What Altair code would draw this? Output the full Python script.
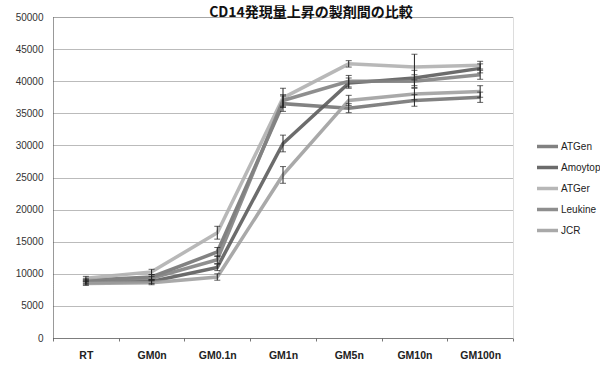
import altair as alt
import pandas as pd

# Doses on the x axis
categories = ["RT", "GM0n", "GM0.1n", "GM1n", "GM5n", "GM10n", "GM100n"]

# Products compared
series = ["ATGen", "Amoytop", "ATGer", "Leukine", "JCR"]

# Mean CD14 signal per dose, one list per product
atgen   = [9000, 9500, 13400, 36500, 35800, 37000, 37500]
amoytop = [8600, 8800, 11000, 30300, 39700, 40500, 42000]
atger   = [9300, 10300, 16400, 37400, 42700, 42200, 42500]
leukine = [8800, 9300, 12200, 37000, 40000, 40000, 41000]
jcr     = [8500, 8600, 9500, 25400, 37000, 38000, 38400]

# Standard deviations for the error bars
atgen_sd   = [300, 400, 700, 1200, 700, 900, 800]
amoytop_sd = [300, 300, 500, 1300, 800, 1200, 700]
atger_sd   = [300, 400, 1000, 1500, 500, 2000, 600]
leukine_sd = [300, 300, 600, 900, 900, 1000, 700]
jcr_sd     = [300, 300, 500, 1300, 800, 900, 900]

y_ticks = [0, 5000, 10000, 15000, 20000, 25000, 30000, 35000, 40000, 45000, 50000]

values = [atgen, amoytop, atger, leukine, jcr]
sds = [atgen_sd, amoytop_sd, atger_sd, leukine_sd, jcr_sd]

rows = []
for name, vals, err in zip(series, values, sds):
    for cat, v, e in zip(categories, vals, err):
        rows.append({"dose": cat, "product": name, "value": v,
                     "lo": v - e, "hi": v + e})
df = pd.DataFrame(rows)

grays = ["#747474", "#5c5c5c", "#b0b0b0", "#828282", "#a0a0a0"]

x_axis = alt.Axis(title=None, labelAngle=0, labelFont="Liberation Sans",
                  labelFontWeight="bold", labelFontSize=10.5,
                  labelColor="#222222", labelPadding=9,
                  tickBand="extent", tickSize=3, tickColor="#777777",
                  domainColor="#555555", domainDash=[1, 1],
                  grid=False)
y_axis = alt.Axis(title=None, values=y_ticks, format="d",
                  labelFont="Liberation Sans", labelFontSize=10,
                  labelColor="#333333", labelPadding=10, labelOverlap=False,
                  ticks=False, domainColor="#555555", domainDash=[1, 1],
                  grid=True, gridColor="#555555", gridDash=[1, 1],
                  gridOpacity=0.8)
x_scale = alt.Scale(type="band", paddingInner=0, paddingOuter=0)
y_scale = alt.Scale(domain=[0, 50000], nice=False)


def xpos():
    return alt.X("dose:N", sort=categories, bandPosition=0.5,
                 scale=x_scale, axis=x_axis)


lines = alt.Chart(df).mark_line(strokeWidth=3.5, opacity=0.9).encode(
    x=xpos(),
    y=alt.Y("value:Q", scale=y_scale, axis=y_axis),
    color=alt.Color("product:N", sort=series,
                    scale=alt.Scale(domain=series, range=grays),
                    legend=alt.Legend(title=None, orient="none",
                                      legendX=482, legendY=117,
                                      symbolType="stroke", symbolSize=440,
                                      symbolStrokeWidth=3.5,
                                      labelFont="Liberation Sans",
                                      labelFontSize=10, labelColor="#222222",
                                      rowPadding=1, labelOffset=1)),
)

bars = alt.Chart(df).mark_rule(color="#222222", strokeWidth=1).encode(
    x=xpos(),
    y=alt.Y("lo:Q", scale=y_scale, axis=y_axis),
    y2="hi:Q",
)

caps_lo = alt.Chart(df).mark_tick(color="#222222", thickness=1, size=6,
                                  orient="horizontal").encode(
    x=xpos(),
    y=alt.Y("lo:Q", scale=y_scale, axis=y_axis),
)
caps_hi = alt.Chart(df).mark_tick(color="#222222", thickness=1, size=6,
                                  orient="horizontal").encode(
    x=xpos(),
    y=alt.Y("hi:Q", scale=y_scale, axis=y_axis),
)

chart = alt.layer(lines, bars, caps_lo, caps_hi).properties(
    width=460,
    height=321,
    padding={"left": 53, "top": 17, "right": 87, "bottom": 29},
    autosize=alt.AutoSizeParams(type="none"),
    title=alt.TitleParams("CD14発現量上昇の製剤間の比較",
                          font="Noto Sans CJK JP", fontSize=14,
                          fontWeight="bold", color="#111111",
                          anchor="middle", offset=0, dx=28, dy=8),
).configure_view(stroke=None).configure(background="white")

chart.save("out.html", embed_options={"renderer": "svg", "actions": False})
